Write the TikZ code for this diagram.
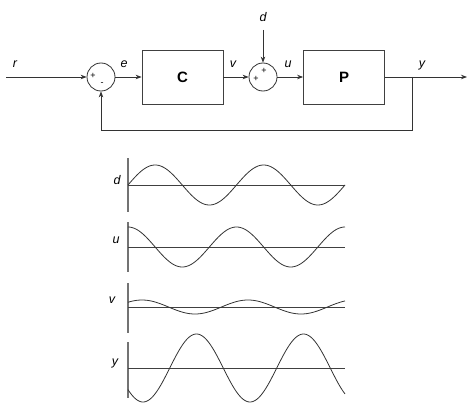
\documentclass[tikz,border=0pt]{standalone}
\usepackage{fontspec}
\setmainfont{Liberation Sans}
\usetikzlibrary{arrows.meta}
\begin{document}
\begin{tikzpicture}[x=1pt,y=-1pt,
  blk/.style={draw=black!75, line width=0.8pt, minimum width=81pt, minimum height=54pt, inner sep=0pt, font=\bfseries\fontsize{15}{17}\selectfont},
  sumc/.style={circle, draw=black!80, line width=0.8pt, minimum size=28pt, inner sep=0pt},
  lbl/.style={font=\itshape\fontsize{12.5}{14}\selectfont, inner sep=0pt},
  sgn/.style={font=\fontsize{9}{10}\selectfont, inner sep=0pt},
  arr/.style={-{Stealth[length=6pt,width=4.5pt]}, line width=0.8pt, draw=black!80},
  axis/.style={draw=black!55, line width=1.5pt},
  base/.style={draw=black!75, line width=0.8pt},
  wave/.style={draw=black!80, line width=0.8pt}]
\useasboundingbox (0,0) rectangle (474,412);
\fill[white] (0,0) rectangle (474,412);

% block diagram
\coordinate (rin) at (6,77);
\node[sumc] (s1) at (101,77) {};
\node[blk] (C) at (182.5,77) {C};
\node[sumc] (s2) at (263,77) {};
\node[blk] (P) at (344,77) {P};
\coordinate (yout) at (467,77);
\coordinate (tap) at (412,77);
\coordinate (fbR) at (412,130);
\coordinate (fbL) at (101,130);
\coordinate (din) at (263,30);

\draw[arr] (rin) -- (s1.west);
\draw[arr] (s1.east) -- (C.west);
\draw[arr] (C.east) -- (s2.west);
\draw[arr] (s2.east) -- (P.west);
\draw[arr] (P.east) -- (yout);
\draw[arr] (tap) -- (fbR) -- (fbL) -- (s1.south);
\draw[arr] (din) -- (s2.north);

\node[lbl] (lr) at (15,64) {r};
\node[lbl] (le) at (124,64) {e};
\node[lbl] (lv) at (233,64) {v};
\node[lbl] (lu) at (288,64) {u};
\node[lbl] (ly) at (422,65) {y};
\node[lbl] (ld) at (263,17) {d};

\node[sgn] (p1) at (93,76) {+};
\node[sgn] (m1) at (102,84) {-};
\node[sgn] (p2) at (256,79) {+};
\node[sgn] (p3) at (264,71) {+};

% waveforms
\draw[axis] (128,158) -- (128,212);
\draw[base] (128,185) -- (345,185);
\draw[wave] plot[domain=128:345, samples=160, smooth] (\x, {185 - 20*sin((\x-128)/108.5*360)});
\node[lbl] (wd) at (117,180) {d};

\draw[axis] (128,222) -- (128,272);
\draw[base] (128,247) -- (345,247);
\draw[wave] plot[domain=128:345, samples=160, smooth] (\x, {247 - 20*cos((\x-128)/108.5*360)});
\node[lbl] (wu) at (116,240) {u};

\draw[axis] (128,283) -- (128,333);
\draw[base] (128,307) -- (345,307);
\draw[wave] plot[domain=128:345, samples=160, smooth] (\x, {307 - 7*cos((\x-142)/106*360)});
\node[lbl] (wv) at (112,300) {v};

\draw[axis] (128,342) -- (128,398);
\draw[base] (128,368) -- (345,368);
\draw[wave] plot[domain=128:345, samples=160, smooth] (\x, {368 + 34*cos((\x-143)/107*360)});
\node[lbl] (wy) at (115,363) {y};
\end{tikzpicture}
\end{document}
